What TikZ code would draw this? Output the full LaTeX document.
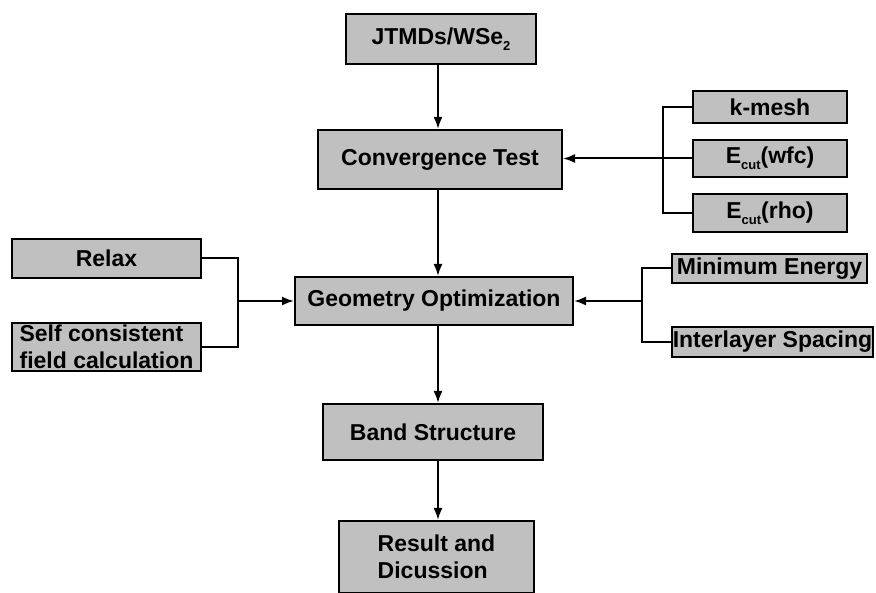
\documentclass[tikz,border=0pt]{standalone}
\usepackage{fontspec}
\setmainfont{Liberation Sans}
\usetikzlibrary{arrows.meta}
\definecolor{boxgray}{RGB}{192,192,192}
\newcommand{\lowsub}[1]{\raisebox{-6pt}{\fontsize{13}{13}\selectfont #1}}

\begin{document}
\begin{tikzpicture}[x=1pt,y=-1pt,
        box/.style={draw,line width=2pt,fill=boxgray,inner sep=0pt,
            font=\fontsize{23}{27}\selectfont\bfseries},
        link/.style={line width=2pt},
        arr/.style={line width=2pt,-{Latex[length=12pt,width=9pt]}}]
            \useasboundingbox (0,0) rectangle (876,593);

            % main column
            \node[box,minimum width=190pt,minimum height=50pt] (jtmd) at (441, 39) {JTMDs/WSe\lowsub{2}};
            \node[box,minimum width=244pt,minimum height=59pt] (conv) at (440, 159.5) {Convergence Test};
            \node[box,minimum width=278pt,minimum height=48pt] (geo) at (434, 301) {Geometry Optimization};
            \node[box,minimum width=220pt,minimum height=56pt] (band) at (433, 432) {Band Structure};
            \node[box,minimum width=195pt,minimum height=72pt,align=left] (result) at (436.5, 557) {Result and\\Dicussion};

            % convergence parameters
            \node[box,minimum width=154pt,minimum height=32pt] (kmesh) at (770, 107) {k-mesh};
            \node[box,minimum width=154pt,minimum height=37pt] (wfc) at (770, 158.5) {E\lowsub{cut}(wfc)};
            \node[box,minimum width=154pt,minimum height=38pt] (rho) at (770, 213) {E\lowsub{cut}(rho)};

            % optimization inputs
            \node[box,minimum width=189pt,minimum height=39pt] (relax) at (106.5, 258.5) {Relax};
            \node[box,minimum width=189pt,minimum height=48pt,align=left] (scf) at (106.5, 347) {Self consistent\\field calculation};

            % optimization outputs
            \node[box,minimum width=195pt,minimum height=29pt] (mine) at (769.5, 268.5) {Minimum Energy};
            \node[box,minimum width=201pt,minimum height=30pt] (inter) at (772.5, 342) {Interlayer Spacing};

            \coordinate (spine) at (438, 0);
            \coordinate (cbr) at (663, 158.5);
            \coordinate (lbr) at (238, 301);
            \coordinate (rbr) at (642, 301);

            \draw[arr] (jtmd.south -| spine) -- (conv.north -| spine);
            \draw[arr] (conv.south -| spine) -- (geo.north -| spine);
            \draw[arr] (geo.south -| spine) -- (band.north -| spine);
            \draw[arr] (band.south -| spine) -- (result.north -| spine);

            \draw[link] (kmesh.west) -| (cbr) |- (rho.west);
            \draw[arr] (wfc.west) -- (wfc.west -| conv.east);

            \draw[link] (relax.east) -| (lbr) |- (scf.east);
            \draw[arr] (lbr) -- (geo.west |- lbr);

            \draw[link] (mine.west) -| (rbr) |- (inter.west);
            \draw[arr] (rbr) -- (geo.east |- rbr);

        \end{tikzpicture}
\end{document}
